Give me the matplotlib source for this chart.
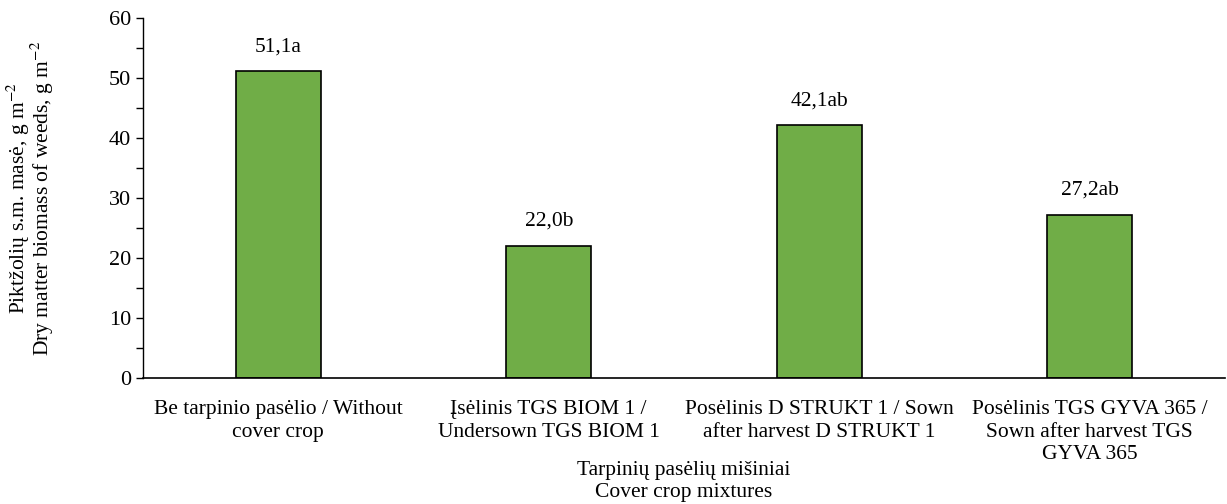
import numpy as np
import matplotlib.pyplot as plt
from matplotlib.ticker import MultipleLocator

plt.rcParams['font.family'] = ['Liberation Serif', 'DejaVu Serif']
plt.rcParams['mathtext.fontset'] = 'stix'

categories = ["Be tarpinio pasėlio / Without\ncover crop",
              "Įsėlinis TGS BIOM 1 /\nUndersown TGS BIOM 1",
              "Posėlinis D STRUKT 1 / Sown\nafter harvest D STRUKT 1",
              "Posėlinis TGS GYVA 365 /\nSown after harvest TGS\nGYVA 365"]
values = [51.1, 22.0, 42.1, 27.2]
letters = ["a", "b", "ab", "ab"]

fs = 15.5

fig = plt.figure(figsize=(12.27, 5.04), dpi=100)
ax = fig.add_axes([143/1227, 1-378/504, 1082/1227, 360/504])

x = np.arange(len(categories))
ax.bar(x, values, width=0.314, color="#70AD47", edgecolor="black", linewidth=1.2)
for xi, v, l in zip(x, values, letters):
    ax.annotate(f"{v:.1f}".replace(".", ",") + l, (xi, v), xytext=(0, 11),
                textcoords="offset points", ha="center", va="bottom", fontsize=fs)

ax.set_xlim(-0.5, 3.5)
ax.set_ylim(0, 60)
ax.yaxis.set_major_locator(MultipleLocator(10))
ax.yaxis.set_minor_locator(MultipleLocator(5))
ax.tick_params(axis='y', which='both', direction='out', labelsize=fs + 0.5, width=1, length=5)
ax.set_xticks(x)
ax.set_xticklabels(categories, fontsize=fs, linespacing=1.25)
ax.tick_params(axis='x', length=0, pad=16)
for s in ['top', 'right']:
    ax.spines[s].set_visible(False)
ax.spines['left'].set_linewidth(1)
ax.spines['bottom'].set_linewidth(1.2)

ax.set_xlabel("Tarpinių pasėlių mišiniai\nCover crop mixtures", fontsize=fs,
              linespacing=1.2)
ax.xaxis.set_label_coords(0.5, -0.23)
ax.set_ylabel("Piktžolių s.m. masė, g m$^{-2}$\nDry matter biomass of weeds, g m$^{-2}$",
              fontsize=fs, linespacing=0.85, labelpad=38)

fig.savefig("out.png", dpi=100)
